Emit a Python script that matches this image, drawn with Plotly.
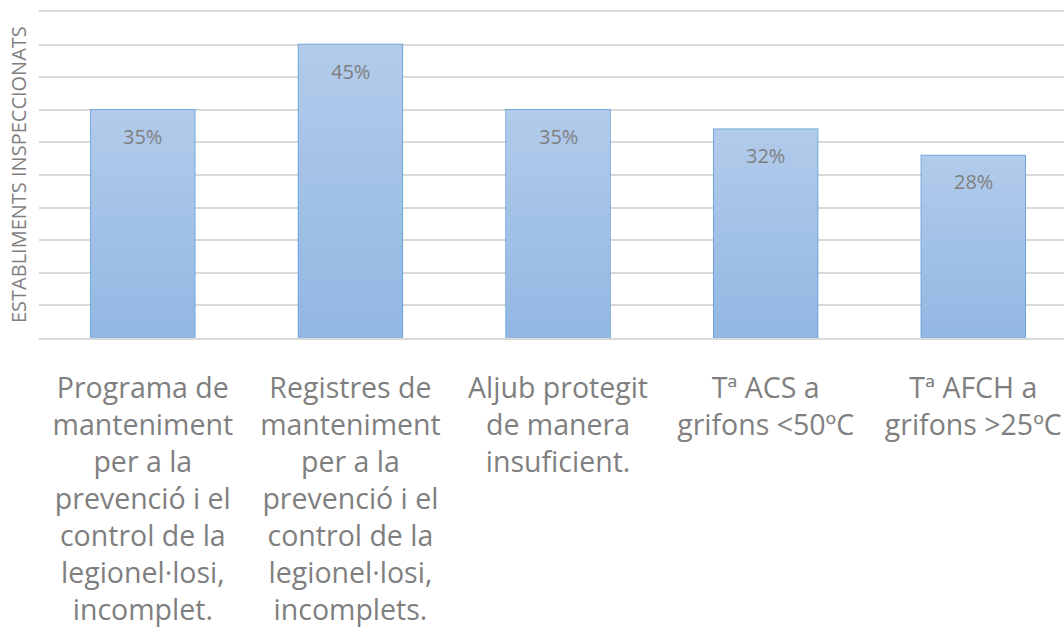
import plotly.graph_objects as go

categories = [
    "Programa de<br>manteniment<br>per a la<br>prevenció i el<br>control de la<br>legionel·losi,<br>incomplet.",
    "Registres de<br>manteniment<br>per a la<br>prevenció i el<br>control de la<br>legionel·losi,<br>incomplets.",
    "Aljub protegit<br>de manera<br>insuficient.",
    "Tª ACS a<br>grifons &lt;50ºC",
    "Tª AFCH a<br>grifons &gt;25ºC",
]
values = [35, 45, 35, 32, 28]
value_labels = ["35%", "45%", "35%", "32%", "28%"]
y_title = "ESTABLIMENTS INSPECCIONATS"

FONT = "Open Sans"
GRAY = "#7f7f7f"
BAR_W = 0.5

x_idx = list(range(len(categories)))

fig = go.Figure()

# gradient fill for each bar (light at top, darker at bottom)
for i, v in zip(x_idx, values):
    x0, x1 = i - BAR_W / 2, i + BAR_W / 2
    fig.add_trace(go.Scatter(
        x=[x0, x0, x1, x1, x0], y=[0, v, v, 0, 0],
        mode="lines", line=dict(width=0, color="rgba(0,0,0,0)"),
        fill="toself",
        fillgradient=dict(type="vertical",
                          colorscale=[[0, "#92b7e3"], [1, "#b2cbea"]]),
        hoverinfo="skip",
    ))

# bar outlines
fig.add_trace(go.Bar(
    x=x_idx, y=values,
    marker=dict(color="rgba(0,0,0,0)", line=dict(color="#5b9bd5", width=1.5)),
    width=BAR_W,
    hoverinfo="skip",
))

for i, (v, t) in enumerate(zip(values, value_labels)):
    fig.add_annotation(x=i, y=v, text=t, showarrow=False, yanchor="top",
                       yshift=-11, font=dict(family=FONT, size=20, color=GRAY))

# y-axis title
fig.add_annotation(x=0, y=0.5, xref="paper", yref="paper", text=y_title,
                   textangle=-90, showarrow=False, xanchor="center", yanchor="middle",
                   xshift=-21, font=dict(family=FONT, size=20, color=GRAY))

fig.update_layout(
    width=1064, height=635,
    margin=dict(l=39, r=0, t=12, b=297),
    plot_bgcolor="white", paper_bgcolor="white",
    showlegend=False,
    font=dict(family=FONT, color=GRAY),
)
fig.update_xaxes(
    range=[-0.5, 4.437],
    tickmode="array", tickvals=x_idx, ticktext=categories,
    tickfont=dict(family=FONT, size=28.5, color=GRAY),
    ticklabelstandoff=24,
    showgrid=False, zeroline=False, ticks="",
    showline=True, mirror=True, linecolor="#d9d9d9", linewidth=1.5,
)
fig.update_yaxes(
    range=[0, 50], dtick=5, tick0=0,
    showticklabels=False,
    showgrid=True, gridcolor="#d9d9d9", gridwidth=1.5,
    zeroline=False,
)

fig.write_html(
    "out.html",
    config={"displayModeBar": False},
    post_script=("document.body.style.margin='0';document.body.style.padding='0';"
                 "document.documentElement.style.overflow='hidden';"
                 "document.body.style.overflow='hidden';"),
)
